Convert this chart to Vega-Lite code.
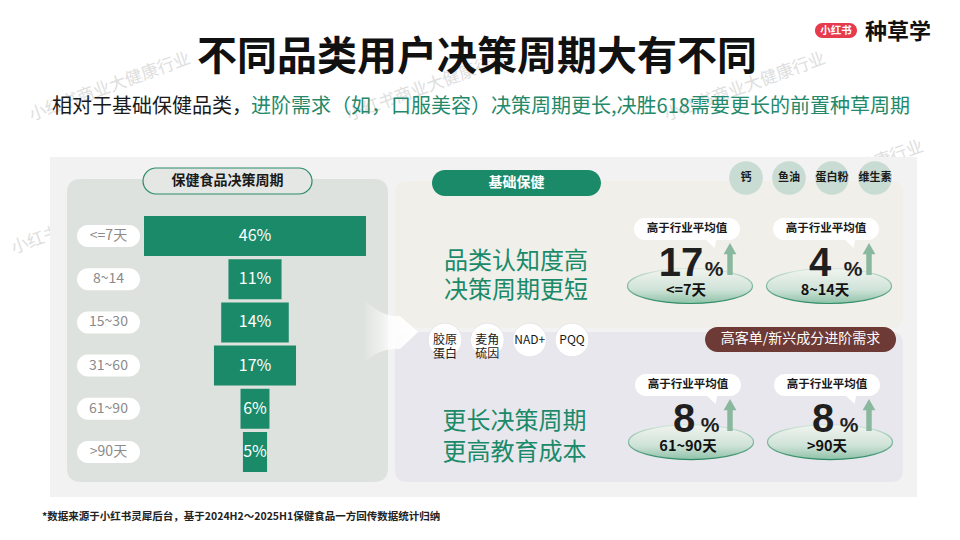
{
  "$schema": "https://vega.github.io/schema/vega-lite/v6.json",
  "background": "white",
  "padding": 0,
  "autosize": {"type": "none"},
  "width": 960,
  "height": 540,
  "config": {
    "font": "Noto Sans CJK SC",
    "view": {"stroke": null},
    "axis": {"disable": true},
    "legend": {"disable": true}
  },
  "resolve": {"scale": {"x": "independent", "y": "independent"}},
  "layer": [
    {
      "data": {"values": [{"wm": "小红书商业大健康行业", "row": "a"}, {"wm": "小红书商业大健康行业 ", "row": "a"}, {"wm": "小红书商业大健康行业  ", "row": "a"}]},
      "mark": {"type": "text", "fontSize": 17, "angle": -20, "color": "#dedede", "baseline": "middle"},
      "encoding": {
        "x": {"field": "wm", "type": "nominal", "sort": null, "scale": {"type": "point", "range": [110, 745], "padding": 0}},
        "y": {"field": "row", "type": "nominal", "scale": {"type": "point", "align": 0.1611}},
        "text": {"field": "wm"}
      }
    },
    {
      "data": {"values": [{"wm": "小红书商业大健康行业"}]},
      "mark": {"type": "text", "fontSize": 17, "angle": -20, "color": "#dedede", "baseline": "middle"},
      "encoding": {
        "x": {"field": "wm", "type": "nominal", "scale": {"type": "point", "align": 0.0958}},
        "y": {"field": "wm", "type": "nominal", "scale": {"type": "point", "align": 0.4074}},
        "text": {"field": "wm"}
      }
    },
    {
      "data": {"values": [{"wm": "小红书商业大健康行业"}]},
      "mark": {"type": "text", "fontSize": 17, "angle": -20, "color": "#dedede", "baseline": "middle"},
      "encoding": {
        "x": {"field": "wm", "type": "nominal", "scale": {"type": "point", "align": 0.8781}},
        "y": {"field": "wm", "type": "nominal", "scale": {"type": "point", "align": 0.3241}},
        "text": {"field": "wm"}
      }
    },
    {
      "data": {"values": [{"t": "不同品类用户决策周期大有不同"}]},
      "mark": {"type": "text", "fontSize": 40, "fontWeight": "bold", "color": "#111111", "align": "center", "baseline": "middle"},
      "encoding": {
        "x": {"field": "t", "type": "nominal", "scale": {"type": "point", "align": 0.4969}},
        "y": {"field": "t", "type": "nominal", "scale": {"type": "point", "align": 0.1074}},
        "text": {"field": "t"}
      }
    },
    {
      "data": {"values": [{"t": "相对于基础保健品类，"}]},
      "mark": {"type": "text", "fontSize": 20, "color": "#1a1a1a", "align": "left", "baseline": "middle"},
      "encoding": {
        "x": {"field": "t", "type": "nominal", "scale": {"type": "point", "align": 0.0542}},
        "y": {"field": "t", "type": "nominal", "scale": {"type": "point", "align": 0.1981}},
        "text": {"field": "t"}
      }
    },
    {
      "data": {"values": [{"t": "进阶需求（如，口服美容）决策周期更长,决胜618需要更长的前置种草周期"}]},
      "mark": {"type": "text", "fontSize": 20, "color": "#23896a", "align": "left", "baseline": "middle"},
      "encoding": {
        "x": {"field": "t", "type": "nominal", "scale": {"type": "point", "align": 0.2615}},
        "y": {"field": "t", "type": "nominal", "scale": {"type": "point", "align": 0.1981}},
        "text": {"field": "t"}
      }
    },
    {
      "data": {"values": [{"t": "小红书"}]},
      "encoding": {
        "x": {"field": "t", "type": "nominal", "scale": {"type": "point", "align": 0.8708}},
        "y": {"field": "t", "type": "nominal", "scale": {"type": "point", "align": 0.0565}}
      },
      "layer": [
        {"mark": {"type": "point", "shape": "M -0.643 -0.357 L 0.643 -0.357 A 0.357 0.357 0 0 1 0.643 0.357 L -0.643 0.357 A 0.357 0.357 0 0 1 -0.643 -0.357 Z", "size": 1764, "filled": true, "opacity": 1, "fill": "#e63a4d", "strokeWidth": 0}},
        {"mark": {"type": "text", "fontSize": 10.5, "fontWeight": "bold", "color": "white", "baseline": "middle"}, "encoding": {"text": {"field": "t"}}}
      ]
    },
    {
      "data": {"values": [{"t": "种草学"}]},
      "mark": {"type": "text", "fontSize": 22, "fontWeight": "bold", "color": "#111111", "align": "center", "baseline": "middle"},
      "encoding": {
        "x": {"field": "t", "type": "nominal", "scale": {"type": "point", "align": 0.9354}},
        "y": {"field": "t", "type": "nominal", "scale": {"type": "point", "align": 0.0593}},
        "text": {"field": "t"}
      }
    },
    {
      "data": {"values": [{"panel": "背景"}]},
      "mark": {"type": "point", "shape": "M -1 -0.3922 L 1 -0.3922 L 1 0.3922 L -1 0.3922 Z", "size": 751689, "filled": true, "opacity": 1, "fill": "#f2f2f2", "strokeWidth": 0},
      "encoding": {
        "x": {"field": "panel", "type": "nominal", "scale": {"type": "point", "align": 0.5036}},
        "y": {"field": "panel", "type": "nominal", "scale": {"type": "point", "align": 0.6056}}
      }
    },
    {
      "data": {"values": [{"panel": "保健食品决策周期"}]},
      "mark": {"type": "point", "shape": "M -0.9128 -0.9439 L 0.9128 -0.9439 Q 1 -0.9439 1 -0.8567 L 1 0.8567 Q 1 0.9439 0.9128 0.9439 L -0.9128 0.9439 Q -1 0.9439 -1 0.8567 L -1 -0.8567 Q -1 -0.9439 -0.9128 -0.9439 Z", "size": 103041, "filled": true, "opacity": 1, "fill": "#dee2de", "strokeWidth": 0},
      "encoding": {
        "x": {"field": "panel", "type": "nominal", "scale": {"type": "point", "align": 0.237}},
        "y": {"field": "panel", "type": "nominal", "scale": {"type": "point", "align": 0.612}}
      }
    },
    {
      "data": {"values": [{"panel": "基础保健"}]},
      "mark": {"type": "point", "shape": "M -0.9528 -0.2894 L 0.9528 -0.2894 Q 1 -0.2894 1 -0.2422 L 1 0.2422 Q 1 0.2894 0.9528 0.2894 L -0.9528 0.2894 Q -1 0.2894 -1 0.2422 L -1 -0.2422 Q -1 -0.2894 -0.9528 -0.2894 Z", "size": 258064, "filled": true, "opacity": 1, "fill": "#f0efe9", "strokeWidth": 0},
      "encoding": {
        "x": {"field": "panel", "type": "nominal", "scale": {"type": "point", "align": 0.676}},
        "y": {"field": "panel", "type": "nominal", "scale": {"type": "point", "align": 0.4713}}
      }
    },
    {
      "data": {"values": [{"panel": "进阶"}]},
      "mark": {"type": "point", "shape": "M -0.9528 -0.2953 L 0.9528 -0.2953 Q 1 -0.2953 1 -0.2481 L 1 0.2481 Q 1 0.2953 0.9528 0.2953 L -0.9528 0.2953 Q -1 0.2953 -1 0.2481 L -1 -0.2481 Q -1 -0.2953 -0.9528 -0.2953 Z", "size": 258064, "filled": true, "opacity": 1, "fill": "#e8e7ed", "strokeWidth": 0},
      "encoding": {
        "x": {"field": "panel", "type": "nominal", "scale": {"type": "point", "align": 0.676}},
        "y": {"field": "panel", "type": "nominal", "scale": {"type": "point", "align": 0.7537}}
      }
    },
    {
      "data": {"values": [
        {"period": "<=7天", "share": 0.46},
        {"period": "8~14", "share": 0.11},
        {"period": "15~30", "share": 0.14},
        {"period": "31~60", "share": 0.17},
        {"period": "61~90", "share": 0.06},
        {"period": ">90天", "share": 0.05}
      ]},
      "encoding": {
        "y": {"field": "period", "type": "nominal", "sort": null, "scale": {"type": "band", "domain": ["<=7天", "8~14", "15~30", "31~60", "61~90", ">90天"], "range": [216, 472], "paddingInner": 0.074, "paddingOuter": 0}}
      },
      "layer": [
        {
          "mark": {"type": "bar", "color": "#1a8a69"},
          "encoding": {"x": {"field": "share", "type": "quantitative", "stack": "center", "scale": {"domain": [-0.2984, 1.6909], "zero": false, "nice": false}}}
        },
        {
          "mark": {"type": "bar", "color": "white", "height": 22, "cornerRadius": 11},
          "encoding": {"x": {"datum": -0.1388, "type": "quantitative"}, "x2": {"datum": -0.0083}}
        },
        {
          "mark": {"type": "text", "color": "#8a8a8a", "fontSize": 14, "baseline": "middle"},
          "encoding": {"x": {"datum": -0.0736, "type": "quantitative"}, "text": {"field": "period"}}
        },
        {
          "mark": {"type": "text", "color": "white", "fontSize": 16, "baseline": "middle"},
          "encoding": {"x": {"datum": 0.23, "type": "quantitative"}, "text": {"field": "share", "type": "quantitative", "format": ".0%"}}
        }
      ]
    },
    {
      "data": {"values": [{"title": "保健食品决策周期"}]},
      "encoding": {
        "x": {"field": "title", "type": "nominal", "scale": {"type": "point", "align": 0.237}},
        "y": {"field": "title", "type": "nominal", "scale": {"type": "point", "align": 0.3352}}
      },
      "layer": [
        {"mark": {"type": "point", "shape": "M -0.8462 -0.1538 L 0.8462 -0.1538 A 0.1538 0.1538 0 0 1 0.8462 0.1538 L -0.8462 0.1538 A 0.1538 0.1538 0 0 1 -0.8462 -0.1538 Z", "size": 28561, "filled": true, "opacity": 1, "fill": "#e4e7e4", "stroke": "#2a8a6a", "strokeWidth": 1.2}},
        {"mark": {"type": "text", "fontSize": 14, "fontWeight": "bold", "color": "#1a1a1a", "baseline": "middle"}, "encoding": {"text": {"field": "title"}}}
      ]
    },
    {
      "data": {"values": [{"g": "基础保健"}]},
      "encoding": {
        "x": {"field": "g", "type": "nominal", "scale": {"type": "point", "align": 0.538}},
        "y": {"field": "g", "type": "nominal", "scale": {"type": "point", "align": 0.3389}}
      },
      "layer": [
        {"mark": {"type": "point", "shape": "M -0.8462 -0.1538 L 0.8462 -0.1538 A 0.1538 0.1538 0 0 1 0.8462 0.1538 L -0.8462 0.1538 A 0.1538 0.1538 0 0 1 -0.8462 -0.1538 Z", "size": 28561, "filled": true, "opacity": 1, "fill": "#1a8a69", "strokeWidth": 0}},
        {"mark": {"type": "text", "fontSize": 14, "fontWeight": "bold", "color": "white", "baseline": "middle"}, "encoding": {"text": {"field": "g"}}}
      ]
    },
    {
      "data": {"values": [{"h": "品类认知度高\n决策周期更短"}]},
      "mark": {"type": "text", "lineBreak": "\n", "fontSize": 24, "lineHeight": 29, "color": "#1a8a69", "baseline": "middle"},
      "encoding": {
        "x": {"field": "h", "type": "nominal", "scale": {"type": "point", "align": 0.5375}},
        "y": {"field": "h", "type": "nominal", "scale": {"type": "point", "align": 0.4843}},
        "text": {"field": "h"}
      }
    },
    {
      "data": {"values": [
        {"group": "基础保健", "ing": "钙"},
        {"group": "基础保健", "ing": "鱼油"},
        {"group": "基础保健", "ing": "蛋白粉"},
        {"group": "基础保健", "ing": "维生素"}
      ]},
      "encoding": {
        "x": {"field": "ing", "type": "nominal", "sort": null, "scale": {"type": "point", "range": [746, 875], "padding": 0}},
        "y": {"field": "group", "type": "nominal", "scale": {"type": "point", "align": 0.3296}}
      },
      "layer": [
        {"mark": {"type": "point", "shape": "circle", "size": 1134, "filled": true, "opacity": 1, "fill": "#c8dcd4", "strokeWidth": 0}},
        {"mark": {"type": "text", "fontSize": 11, "fontWeight": "bold", "color": "#1a1a1a", "baseline": "middle"}, "encoding": {"text": {"field": "ing"}}}
      ]
    },
    {
      "data": {"values": [
        {"group": "基础保健", "period": "<=7天", "diff": 17},
        {"group": "基础保健", "period": "8~14天", "diff": 4}
      ]},
      "encoding": {
        "x": {"field": "period", "type": "nominal", "sort": null, "scale": {"type": "point", "range": [690, 829], "padding": 0}},
        "y": {"field": "group", "type": "nominal", "scale": {"type": "point", "align": 0.513}}
      },
      "layer": [
        {"mark": {"type": "point", "shape": "M -1 0 A 1 0.28 0 1 0 1 0 A 1 0.28 0 1 0 -1 0 Z", "size": 15625, "filled": true, "opacity": 1, "fill": {"gradient": "linear", "x1": 0, "y1": 0, "x2": 0, "y2": 1, "stops": [{"offset": 0, "color": "#f1f4ef"}, {"offset": 0.6, "color": "#cfe3d8"}, {"offset": 1, "color": "#8fc2a8"}]}, "stroke": {"gradient": "linear", "x1": 0, "y1": 0, "x2": 0, "y2": 1, "stops": [{"offset": 0, "color": "#d6e6dc"}, {"offset": 1, "color": "#2e8b66"}]}, "strokeWidth": 1.2, "yOffset": 9}},
        {"mark": {"type": "point", "shape": "M -0.7925 -0.2075 L 0.7925 -0.2075 A 0.2075 0.2075 0 0 1 0.7925 0.2075 L 0.55 0.2075 L 0.52 0.36 L 0.36 0.2075 L -0.7925 0.2075 A 0.2075 0.2075 0 0 1 -0.7925 -0.2075 Z", "size": 11236, "filled": true, "opacity": 1, "fill": "white", "strokeWidth": 0, "xOffset": -3, "yOffset": -48}},
        {"mark": {"type": "text", "text": "高于行业平均值", "fontSize": 11.5, "fontWeight": "bold", "color": "#1a1a1a", "baseline": "middle", "dx": -3, "dy": -48}},
        {"mark": {"type": "text", "font": "Liberation Sans", "fontSize": 40, "fontWeight": "bold", "color": "#1f1f1f", "baseline": "alphabetic", "dx": -9, "dy": -1}, "encoding": {"text": {"field": "diff", "type": "quantitative"}}},
        {"mark": {"type": "text", "text": "%", "font": "Liberation Sans", "fontSize": 21, "fontWeight": "bold", "color": "#1f1f1f", "baseline": "alphabetic", "dx": 24, "dy": -1}},
        {"mark": {"type": "point", "shape": "M 0 -1 L 0.4 -0.3 L 0.17 -0.3 L 0.17 1 L -0.17 1 L -0.17 -0.3 L -0.4 -0.3 Z", "size": 1024, "filled": true, "opacity": 1, "fill": "#8ab89f", "strokeWidth": 0, "xOffset": 40, "yOffset": -18}},
        {"mark": {"type": "text", "fontSize": 14.5, "fontWeight": "bold", "color": "#111111", "baseline": "alphabetic", "dx": -4, "dy": 18}, "encoding": {"text": {"field": "period"}}}
      ]
    },
    {
      "data": {"values": [{"g": "arrow"}]},
      "mark": {"type": "point", "shape": "M -0.846 -1 Q -0.3 -0.4 0.292 -0.446 L 0.846 0.046 L 0.292 0.569 Q -0.3 0.5 -0.846 1 Z", "size": 4225, "filled": true, "opacity": 1, "fill": {"gradient": "linear", "x1": 0, "y1": 0, "x2": 1, "y2": 0, "stops": [{"offset": 0, "color": "rgba(255,255,255,0)"}, {"offset": 0.55, "color": "rgba(255,255,255,0.85)"}, {"offset": 1, "color": "#ffffff"}]}, "strokeWidth": 0},
      "encoding": {
        "x": {"field": "g", "type": "nominal", "scale": {"type": "point", "align": 0.4068}},
        "y": {"field": "g", "type": "nominal", "scale": {"type": "point", "align": 0.612}}
      }
    },
    {
      "data": {"values": [
        {"group": "进阶", "ing": "胶原\n蛋白"},
        {"group": "进阶", "ing": "麦角\n硫因"},
        {"group": "进阶", "ing": "NAD+"},
        {"group": "进阶", "ing": "PQQ"}
      ]},
      "encoding": {
        "x": {"field": "ing", "type": "nominal", "sort": null, "scale": {"type": "point", "range": [445, 572], "padding": 0}},
        "y": {"field": "group", "type": "nominal", "scale": {"type": "point", "align": 0.6296}}
      },
      "layer": [
        {"mark": {"type": "point", "shape": "circle", "size": 1134, "filled": true, "opacity": 1, "fill": "#ffffff", "stroke": "#e2e1e8", "strokeWidth": 0.8}},
        {"mark": {"type": "text", "fontSize": 12, "lineHeight": 14, "lineBreak": "\n", "color": "#1a1a1a", "baseline": "middle"}, "encoding": {"text": {"field": "ing"}}}
      ]
    },
    {
      "data": {"values": [{"g": "高客单/新兴成分进阶需求"}]},
      "encoding": {
        "x": {"field": "g", "type": "nominal", "scale": {"type": "point", "align": 0.8339}},
        "y": {"field": "g", "type": "nominal", "scale": {"type": "point", "align": 0.6287}}
      },
      "layer": [
        {"mark": {"type": "point", "shape": "M -0.8691 -0.1309 L 0.8691 -0.1309 A 0.1309 0.1309 0 0 1 0.8691 0.1309 L -0.8691 0.1309 A 0.1309 0.1309 0 0 1 -0.8691 -0.1309 Z", "size": 36481, "filled": true, "opacity": 1, "fill": "#6d3a35", "strokeWidth": 0}},
        {"mark": {"type": "text", "fontSize": 14, "color": "white", "baseline": "middle"}, "encoding": {"text": {"field": "g"}}}
      ]
    },
    {
      "data": {"values": [{"h": "更长决策周期\n更高教育成本"}]},
      "mark": {"type": "text", "lineBreak": "\n", "fontSize": 24, "lineHeight": 31, "color": "#1a8a69", "baseline": "middle"},
      "encoding": {
        "x": {"field": "h", "type": "nominal", "scale": {"type": "point", "align": 0.5359}},
        "y": {"field": "h", "type": "nominal", "scale": {"type": "point", "align": 0.7824}},
        "text": {"field": "h"}
      }
    },
    {
      "data": {"values": [
        {"group": "进阶", "period": "61~90天", "diff": 8},
        {"group": "进阶", "period": ">90天", "diff": 8}
      ]},
      "encoding": {
        "x": {"field": "period", "type": "nominal", "sort": null, "scale": {"type": "point", "range": [691, 830], "padding": 0}},
        "y": {"field": "group", "type": "nominal", "scale": {"type": "point", "align": 0.8019}}
      },
      "layer": [
        {"mark": {"type": "point", "shape": "M -1 0 A 1 0.28 0 1 0 1 0 A 1 0.28 0 1 0 -1 0 Z", "size": 15625, "filled": true, "opacity": 1, "fill": {"gradient": "linear", "x1": 0, "y1": 0, "x2": 0, "y2": 1, "stops": [{"offset": 0, "color": "#f1f4ef"}, {"offset": 0.6, "color": "#cfe3d8"}, {"offset": 1, "color": "#8fc2a8"}]}, "stroke": {"gradient": "linear", "x1": 0, "y1": 0, "x2": 0, "y2": 1, "stops": [{"offset": 0, "color": "#d6e6dc"}, {"offset": 1, "color": "#2e8b66"}]}, "strokeWidth": 1.2, "yOffset": 9}},
        {"mark": {"type": "point", "shape": "M -0.7925 -0.2075 L 0.7925 -0.2075 A 0.2075 0.2075 0 0 1 0.7925 0.2075 L 0.55 0.2075 L 0.52 0.36 L 0.36 0.2075 L -0.7925 0.2075 A 0.2075 0.2075 0 0 1 -0.7925 -0.2075 Z", "size": 11236, "filled": true, "opacity": 1, "fill": "white", "strokeWidth": 0, "xOffset": -3, "yOffset": -48}},
        {"mark": {"type": "text", "text": "高于行业平均值", "fontSize": 11.5, "fontWeight": "bold", "color": "#1a1a1a", "baseline": "middle", "dx": -3, "dy": -48}},
        {"mark": {"type": "text", "font": "Liberation Sans", "fontSize": 40, "fontWeight": "bold", "color": "#1f1f1f", "baseline": "alphabetic", "dx": -7, "dy": -1}, "encoding": {"text": {"field": "diff", "type": "quantitative"}}},
        {"mark": {"type": "text", "text": "%", "font": "Liberation Sans", "fontSize": 21, "fontWeight": "bold", "color": "#1f1f1f", "baseline": "alphabetic", "dx": 19, "dy": -1}},
        {"mark": {"type": "point", "shape": "M 0 -1 L 0.4 -0.3 L 0.17 -0.3 L 0.17 1 L -0.17 1 L -0.17 -0.3 L -0.4 -0.3 Z", "size": 1024, "filled": true, "opacity": 1, "fill": "#8ab89f", "strokeWidth": 0, "xOffset": 39, "yOffset": -18}},
        {"mark": {"type": "text", "fontSize": 14.5, "fontWeight": "bold", "color": "#111111", "baseline": "alphabetic", "dx": -3, "dy": 18}, "encoding": {"text": {"field": "period"}}}
      ]
    },
    {
      "data": {"values": [{"t": "*数据来源于小红书灵犀后台，基于2024H2～2025H1保健食品一方回传数据统计归纳"}]},
      "mark": {"type": "text", "align": "left", "baseline": "middle", "fontSize": 10.5, "fontWeight": "bold", "color": "#222222"},
      "encoding": {
        "x": {"field": "t", "type": "nominal", "scale": {"type": "point", "align": 0.04375}},
        "y": {"field": "t", "type": "nominal", "scale": {"type": "point", "align": 0.9574}},
        "text": {"field": "t"}
      }
    }
  ]
}
